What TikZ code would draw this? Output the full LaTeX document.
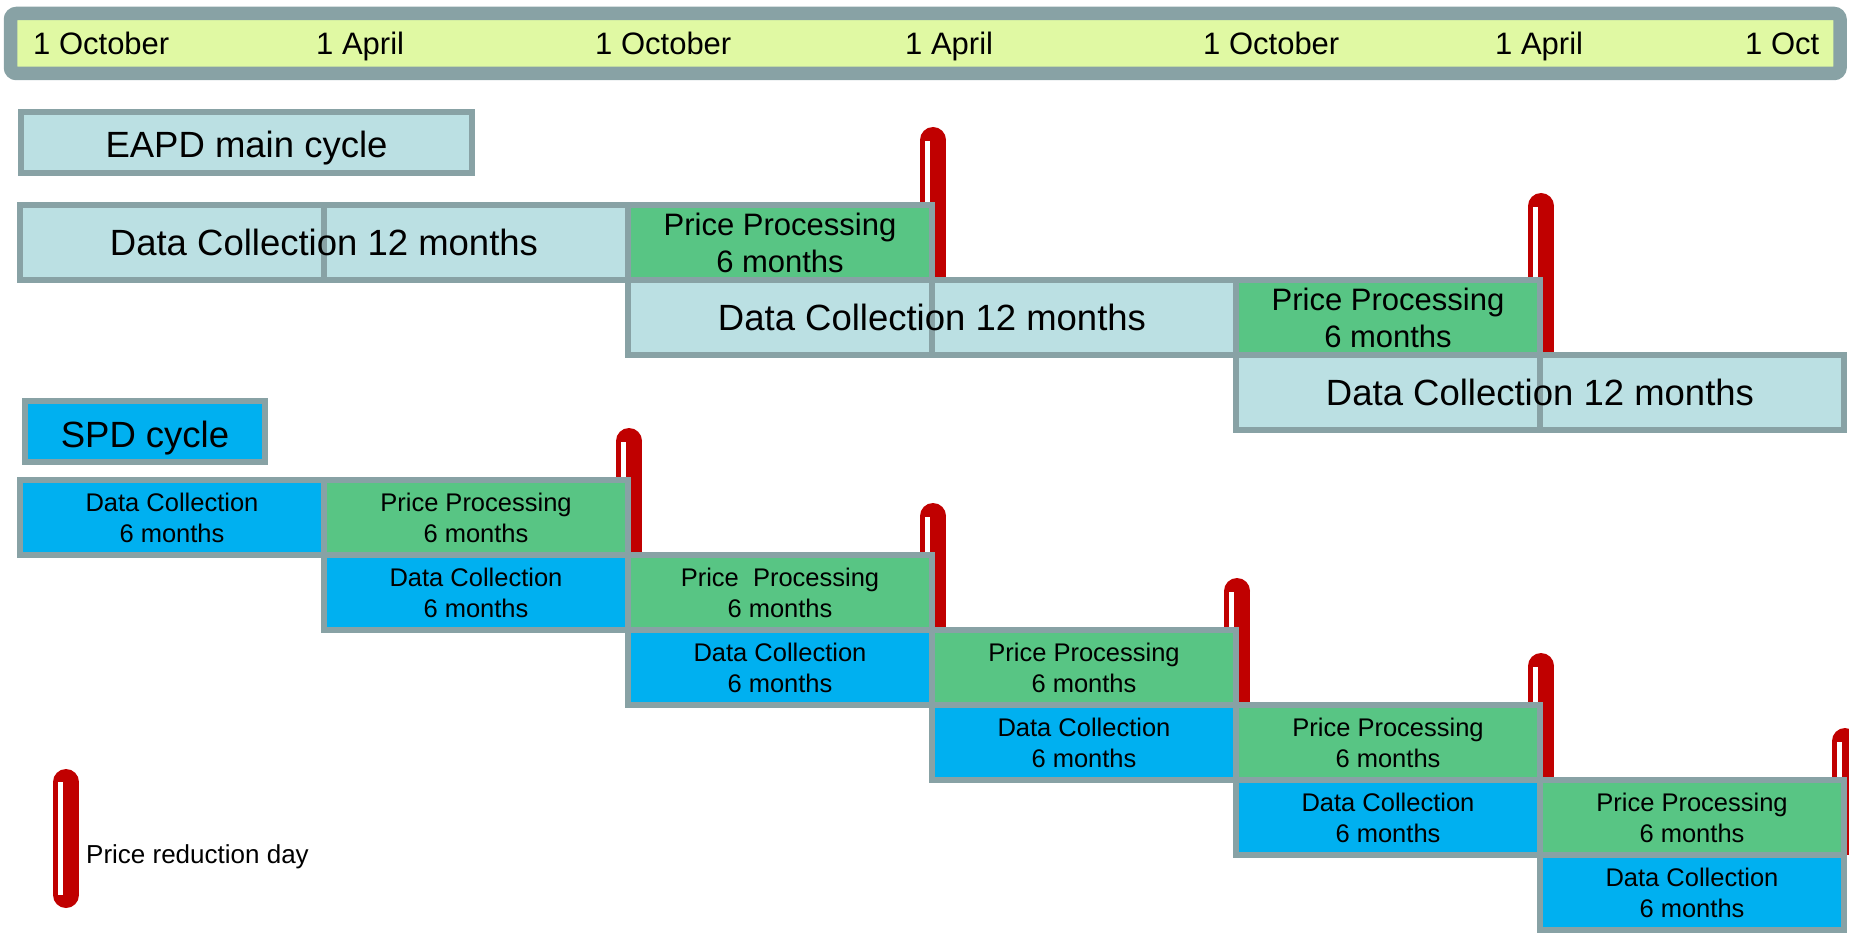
\documentclass[tikz,border=0pt]{standalone}
\usepackage{fontspec}
\setmainfont{Liberation Sans}
\usepackage{tikz}

\definecolor{framegrey}{HTML}{88A2A5}
\definecolor{datebarfill}{HTML}{E0F9A3}
\definecolor{eapdblue}{HTML}{BBE0E3}
\definecolor{procgreen}{HTML}{58C584}
\definecolor{spdblue}{HTML}{00B0F0}
\definecolor{markred}{HTML}{C00000}

\newcommand{\bigfont}{\fontsize{36.5}{44}\selectfont}
\newcommand{\midfont}{\fontsize{31}{37}\selectfont}
\newcommand{\smallfont}{\fontsize{25.5}{31}\selectfont}
\newcommand{\legendfont}{\fontsize{26}{31}\selectfont}

\newcommand{\pricemark}[3]{%
  \fill[markred] (#1-13,#3) rectangle (#1+13,#2+13);
  \fill[markred] (#1,#2+13) circle (13);
  \fill[white] (#1-8,#2+14) rectangle (#1-3,#3);
}

\begin{document}
\begin{tikzpicture}[x=1pt,y=-1pt,
    box/.style={draw=framegrey, line width=5.5pt, inner sep=0pt, align=center},
    onecol/.style={box, minimum width=304pt, minimum height=75pt},
    collect/.style={onecol, fill=eapdblue},
    process/.style={onecol, fill=procgreen},
    spdcollect/.style={onecol, fill=spdblue}]
    \useasboundingbox (0,0) rectangle (1849,933);

    \node[draw=framegrey, fill=datebarfill, line width=13.5pt, rounded corners=6pt,
      minimum width=1829.5pt, minimum height=60pt, inner sep=0pt] (datebar) at (925.25,43.5) {};
    \foreach \x/\d [count=\i] in {33/1 October, 316/1 April, 595/1 October, 905/1 April,
        1203/1 October, 1495/1 April, 1745/1 Oct}
      \node[anchor=base west, inner sep=0pt, font=\midfont] (date\i) at (\x,55) {\d};

    \node[box, fill=eapdblue, minimum width=451pt, minimum height=61pt]
      (eapd) at (246.5,142.5) {};
    \node[font=\bigfont] (eapdtext) at ([yshift=-6pt]eapd.center) {EAPD main cycle};
    \node[box, fill=spdblue, minimum width=240pt, minimum height=61pt]
      (spd) at (145,431.5) {};
    \node[font=\bigfont] (spdtext) at ([yshift=-7pt]spd.center) {SPD cycle};

    \pricemark{933}{127}{280}
    \pricemark{1541}{193}{355}
    \foreach \r [evaluate=\r as \mx using {20+304*(\r+2)+1},
        evaluate=\r as \mt using {428+75*\r},
        evaluate=\r as \mb using {555+75*\r}] in {0,...,4} {
      \pricemark{\mx}{\mt}{\mb}
    }

    \foreach \r in {0,1,2} {
      \node[collect] (dca\r) at ({172+608*\r},{242.5+75*\r}) {};
      \node[collect] (dcb\r) at ({476+608*\r},{242.5+75*\r}) {};
      \node[font=\bigfont] (dct\r) at ({324+608*\r},{242.5+75*\r}) {Data Collection 12 months};
    }
    \foreach \r in {0,1}
      \node[process, font=\midfont] (ppe\r) at ({780+608*\r},{242.5+75*\r}) {Price Processing\\6 months};

    \foreach \r in {0,...,5}
      \node[spdcollect, font=\smallfont] (dcs\r) at ({172+304*\r},{517.5+75*\r}) {Data Collection\\6 months};
    \foreach \r/\pp in {0/Price Processing, 1/Price\ \ Processing, 2/Price Processing,
        3/Price Processing, 4/Price Processing}
      \node[process, font=\smallfont] (pps\r) at ({476+304*\r},{517.5+75*\r}) {\pp\\6 months};

    \draw[markred, line width=26pt, line cap=round] (66,782) -- (66,895);
    \fill[white] (58,782) rectangle (63,895);
    \node[anchor=base west, inner sep=0pt, font=\legendfont] (legend) at (86,863) {Price reduction day};
\end{tikzpicture}
\end{document}
